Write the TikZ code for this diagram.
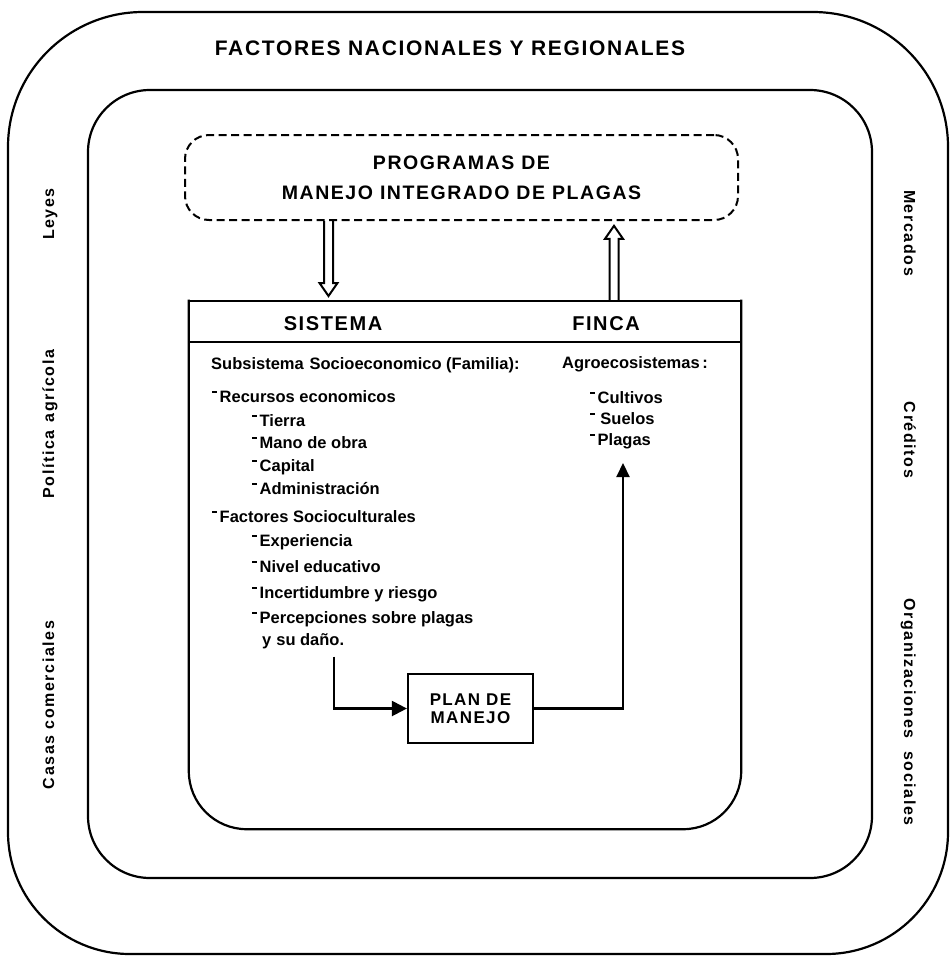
\documentclass[tikz,border=0pt]{standalone}
\usepackage{fontspec}
\setmainfont{Liberation Sans}
\newfontfamily\spacedfont[LetterSpace=8]{Liberation Sans}
\newfontfamily\widefont[LetterSpace=10]{Liberation Sans}
\usetikzlibrary{arrows.meta,calc}
% raised item dash used in the lists
\newcommand{\dsh}{\rule[9.5pt]{5pt}{2pt}\hspace{2.5pt}}

\begin{document}
\begin{tikzpicture}[x=1pt,y=-1pt,
  frame/.style={draw, line width=2.2pt},
  hollow/.style={draw, line width=2pt, line join=miter},
  conn/.style={draw, line width=2.2pt},
  body/.style={inner sep=0pt, anchor=base west, font=\fontsize{16.5}{20}\selectfont\bfseries},
  side/.style={inner sep=0pt, anchor=base, font=\widefont\fontsize{16}{19}\selectfont\bfseries},
  head/.style={inner sep=0pt, anchor=base, font=\spacedfont\fontsize{20}{24}\selectfont\bfseries},
  tip/.style={-{Triangle[length=15pt,width=15pt]}},
]
\useasboundingbox (0,0) rectangle (951,956);

% outer ring: national and regional factors
\draw[frame] (8,480) [rounded corners=135pt] -- (8,12) -- (948,12) -- (948,480)
  [rounded corners=122pt] -- (948,954) -- (8,954) -- cycle;
\node[head, font=\spacedfont\fontsize{21}{25}\selectfont\bfseries] (title) at (450,55)
  {FACTORES NACIONALES Y REGIONALES};

% middle ring
\draw[frame, rounded corners=62pt] (88,90) rectangle (872,878);

% side labels
\node[side, rotate=90] (leyes) at (54,214) {Leyes};
\node[side, rotate=90] (politica) at (54,424) {Política\hspace{0.5em}agrícola};
\node[side, rotate=90] (casas) at (54,705) {Casas comerciales};
\node[side, rotate=-90] (mercados) at (904,233) {Mercados};
\node[side, rotate=-90] (creditos) at (904,440) {Créditos};
\node[side, rotate=-90] (organiz) at (904,712) {Organizaciones\hspace{0.8em}sociales};

% integrated pest management programmes
\node[draw, line width=2pt, dash pattern=on 8pt off 4.5pt, rounded corners=24pt,
      minimum width=553pt, minimum height=85pt, align=center,
      font=\spacedfont\fontsize{19.5}{30}\selectfont\bfseries] (prog) at (461.5,177.5)
  {PROGRAMAS DE\\MANEJO INTEGRADO DE PLAGAS};

% farm system box
\node[inner sep=0pt, minimum width=552pt, minimum height=528pt] (sys) at (465,565) {};
\draw[frame, line cap=rect, rounded corners=58pt]
  (sys.north west) -- (sys.south west) -- (sys.south east) -- (sys.north east);
\draw[frame, line cap=rect] (sys.north west) -- (sys.north east);
\draw[frame] ($(sys.north west)+(0,41)$) -- ($(sys.north east)+(0,41)$);
\node[head] (sistema) at (333,330) {SISTEMA};
\node[head] (finca) at (606,330) {FINCA};

% hollow arrows between the programmes and the farm system
\coordinate (dnx) at (328.5,0);
\coordinate (upx) at (614,0);
\draw[hollow] ($(prog.south -| dnx)+(-4.5,0)$) -- ++(0,62) -- ++(-4.5,0) -- ++(9,13)
  -- ++(9,-13) -- ++(-4.5,0) -- ++(0,-62);
\draw[hollow] ($(sys.north -| upx)+(-4.5,0)$) -- ++(0,-62) -- ++(-4.5,0) -- ++(9,-13)
  -- ++(9,13) -- ++(-4.5,0) -- ++(0,62);

% socio-economic subsystem
\node[body] (subs) at (211,369) {Subsistema\hspace{0.35em}Socioeconomico (Familia):};
\node[body] (recursos) at (212,402) {\dsh Recursos economicos};
\node[body] (tierra) at (252,426) {\dsh Tierra};
\node[body] (mano) at (252,448) {\dsh Mano de obra};
\node[body] (capital) at (252,471) {\dsh Capital};
\node[body] (admin) at (252,494) {\dsh Administración};
\node[body] (factores) at (212,522) {\dsh Factores Socioculturales};
\node[body] (exper) at (252,546) {\dsh Experiencia};
\node[body] (nivel) at (252,572) {\dsh Nivel educativo};
\node[body] (incert) at (252,598) {\dsh Incertidumbre y riesgo};
\node[body] (percep) at (252,623) {\dsh Percepciones sobre plagas};
\node[body] (dano) at (262,645) {y\hspace{0.3em}su daño.};

% agro-ecosystems
\node[body] (agro) at (562,368) {Agroecosistemas\,:};
\node[body] (cultivos) at (590,403) {\dsh Cultivos};
\node[body] (suelos) at (590,424) {\dsh\,Suelos};
\node[body] (plagas) at (590,445) {\dsh Plagas};

% management plan
\node[draw, line width=2.2pt, minimum width=125pt, minimum height=69pt, align=center,
      font=\spacedfont\fontsize{17}{18}\selectfont\bfseries] (plan) at (470.5,708.5)
  {PLAN DE\\MANEJO};

\coordinate (bendx) at (334,0);
\coordinate (upend) at (623,463);
\draw[conn, tip] ($(dano.south -| bendx)+(0,8)$) |- (plan.west);
\draw[conn, -{Triangle[length=14pt,width=13pt]}] (plan.east) -| (upend);
\end{tikzpicture}
\end{document}
